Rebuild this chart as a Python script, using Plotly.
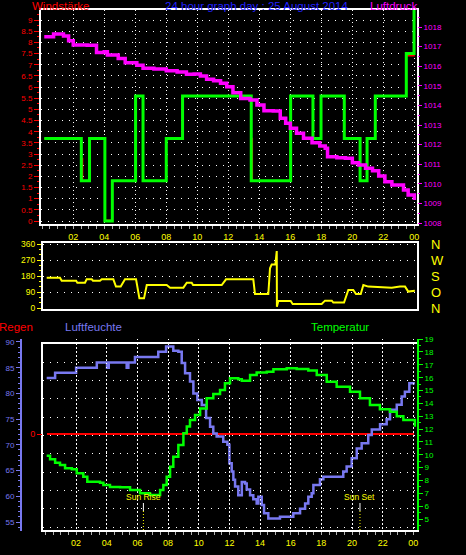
import plotly.graph_objects as go

# ---------------- data ----------------
hour_ticks = [2, 4, 6, 8, 10, 12, 14, 16, 18, 20, 22, 24]
hour_labels = ["02", "04", "06", "08", "10", "12", "14", "16", "18", "20", "22", "00"]

# Windstärke (green, step line)
wind_hours = [0.13, 2.52, 3.05, 4.04, 4.52, 6.02, 6.5, 8.0, 9.05, 13.48, 16.02, 17.46,
              17.98, 19.48, 20.5, 20.95, 21.48, 23.48, 23.98]
wind_speed = [3.7, 1.8, 3.7, 0.0, 1.8, 5.6, 1.8, 3.7, 5.6, 1.8, 5.6, 3.7,
              5.6, 3.7, 1.8, 3.7, 5.6, 7.5, 9.5]
# second wind series (red, mostly hidden under the green one)
gust_hours = [0.13, 2.52, 2.6, 3.05, 4.04, 4.52, 6.02, 6.5, 8.0, 9.05, 13.48, 13.55,
              16.02, 17.46, 17.98, 19.48, 20.5, 20.95, 21.48, 23.48, 23.98]
gust_speed = [3.7, 2.8, 1.8, 3.7, 0.03, 1.8, 5.6, 1.8, 3.7, 5.6, 3.7, 1.8,
              5.6, 3.7, 5.6, 3.7, 1.8, 3.7, 5.6, 7.4, 9.5]

# Luftdruck (magenta)
press_hours = [0.13, 0.73, 1.37, 1.7, 2.0, 2.9, 3.5, 4.0, 4.2, 4.9, 5.35, 6.1, 6.5, 7.2,
               8.0, 8.7, 9.3, 9.8, 10.2, 10.6, 11.05, 11.5, 11.9, 12.3, 12.8, 13.4,
               13.85, 14.3, 14.9, 15.35, 15.7, 16.0, 16.4, 16.85, 17.4, 17.9, 18.25,
               18.4, 19.0, 19.55, 20.0, 20.4, 20.85, 21.3, 21.7, 22.1, 22.55, 23.0,
               23.3, 23.6, 24.0]
pressure = [1017.5, 1017.64, 1017.54, 1017.3, 1017.08, 1017.07, 1016.7, 1016.74,
            1016.57, 1016.4, 1016.18, 1016.05, 1015.9, 1015.86, 1015.77, 1015.7,
            1015.59, 1015.6, 1015.5, 1015.33, 1015.26, 1015.13, 1014.95, 1014.65,
            1014.36, 1014.28, 1014.02, 1013.73, 1013.71, 1013.34, 1013.09, 1012.83,
            1012.58, 1012.32, 1012.1, 1011.93, 1011.81, 1011.38, 1011.33, 1011.3,
            1011.08, 1010.96, 1010.79, 1010.67, 1010.4, 1010.11, 1009.94, 1009.94,
            1009.68, 1009.43, 1009.17]

# Windrichtung (yellow)
dir_hours = [0.08, 0.95, 1.06, 2.0, 2.08, 2.58, 2.69, 3.02, 3.1, 3.56, 3.67, 4.43, 4.6,
             4.91, 5.19, 5.91, 6.13, 6.43, 6.61, 7.91, 8.13, 9.0, 9.22, 9.54, 9.63,
             11.5, 11.78, 13.56, 13.67, 14.54, 14.65, 14.76, 15.0, 15.09, 15.1, 15.19,
             16.0, 16.13, 18.02, 18.24, 18.68, 18.78, 19.48, 19.76, 20.08, 20.26,
             20.57, 20.74, 21.06, 22.59, 23.13, 23.46, 23.67, 24.1]
direction = [172, 172, 155, 155, 144, 144, 163, 163, 155, 155, 163, 163, 122,
             122, 163, 163, 56, 56, 131, 131, 116, 116, 144, 144, 131,
             131, 163, 163, 80, 80, 225, 247, 247, 322, 9, 41,
             41, 24, 24, 43, 43, 32, 32, 103, 103, 80,
             80, 131, 122, 116, 122, 122, 94, 99]
dir_ticks = [0, 90, 180, 270, 360]
dir_letters = ["N", "O", "S", "W", "N"]

# Luftfeuchte (blue, step line)
hum_hours = [0.08, 0.63, 2.0, 3.35, 4.02, 4.13, 5.3, 5.41, 5.84, 7.36, 7.87, 8.34, 8.67,
             8.89, 9.11, 9.43, 9.65, 9.91, 10.2, 10.48, 10.74, 10.95, 11.17, 11.6, 11.87,
             12.0, 12.15, 12.26, 12.37, 12.58, 12.81, 13.02, 13.13, 13.35, 13.56, 13.78,
             13.89, 14.11, 14.26, 14.54, 15.19, 15.3, 15.74, 16.17, 16.61, 16.94, 17.15,
             17.37, 17.48, 17.91, 18.13, 19.33, 19.43, 19.65, 19.98, 20.31, 20.63, 21.06,
             21.29, 21.83, 22.26, 22.48, 22.92, 23.24, 23.45, 23.74, 24.1]
humidity = [83.0, 84.0, 85.0, 86.0, 85.0, 86.0, 85.0, 86.0, 87.1, 88.1, 89.1, 88.3, 88.1,
            85.9, 83.9, 82.3, 80.0, 78.7, 77.75, 75.2, 73.5, 72.2, 71.6, 70.6, 70.0,
            66.4, 64.8, 63.2, 61.9, 60.2, 62.8, 62.5, 61.3, 60.2, 59.4, 58.6,
            59.9, 58.3, 56.7, 55.7, 55.7, 56.0, 56.0, 56.7, 57.6, 58.6, 59.9,
            60.6, 62.2, 63.3, 63.8, 63.8, 64.8, 65.8, 67.4, 69.3, 70.3, 71.9,
            73.0, 74.0, 75.0, 76.8, 77.8, 79.4, 80.3, 82.0, 82.0]

# Temperatur (green)
temp_hours = [0.08, 0.3, 0.63, 0.95, 1.28, 1.72, 2.04, 2.47, 2.73, 3.56, 3.78, 4.21, 4.87,
              5.52, 6.17, 6.82, 7.36, 7.48, 7.69, 7.91, 8.13, 8.34, 8.67, 9.0, 9.22, 9.43,
              9.76, 10.09, 10.52, 10.95, 11.39, 11.71, 12.04, 12.58, 12.81, 13.35, 13.78,
              14.44, 14.87, 15.74, 16.39, 17.15, 17.7, 18.35, 19.0, 19.87, 20.52, 21.17,
              21.82, 22.48, 22.92, 23.35, 24.1]
temperature = [9.93, 9.65, 9.39, 9.2, 8.95, 8.87, 8.56, 8.3, 7.9, 7.83, 7.65, 7.5, 7.47,
               7.26, 7.0, 6.87, 6.87, 7.26, 7.65, 8.3, 9.07, 9.85, 10.76, 11.67, 12.2, 12.7,
               13.1, 13.6, 14.4, 14.73, 15.04, 15.56, 15.95, 15.88, 15.77, 16.2, 16.4,
               16.47, 16.65, 16.73, 16.68, 16.55, 16.2, 15.69, 15.3, 14.9, 14.4, 13.88,
               13.54, 13.35, 13.0, 12.7, 12.19]

# Regen (red)
rain_hours = [0.1, 24.04]
rain = [0, 0]

sun_names = ["Sun Rise", "Sun Set"]
sun_hours = [6.39, 20.52]

# ---------------- styling ----------------
W, H = 466, 555
FONT = "Liberation Sans"
RED, MAG, YEL, GRN = "#FF0000", "#FF00FF", "#FFFF00", "#00FF00"
HUM = "#7878F0"
TITLEBLUE = "#2020FF"
TICKGRAY = "#B0B0B0"


def fx(p):
    return p / W


def fy(p):
    return 1 - p / H


TOP_DOM = [fy(224), fy(10)]
MID_DOM = [fy(309), fy(243)]
BOT_DOM = [fy(530), fy(344)]
HUM_DOM = [fy(531), fy(339)]
TMP_DOM = [fy(530), fy(339)]

fig = go.Figure()

fig.add_trace(go.Scatter(x=gust_hours, y=gust_speed, xaxis="x", yaxis="y", mode="lines",
                         line=dict(color=RED, width=1.5, shape="hv")))
fig.add_trace(go.Scatter(x=wind_hours, y=wind_speed, xaxis="x", yaxis="y", mode="lines",
                         line=dict(color=GRN, width=3, shape="hv")))
fig.add_trace(go.Scatter(x=press_hours, y=pressure, xaxis="x", yaxis="y2", mode="lines",
                         line=dict(color=MAG, width=3.5, shape="hv")))
# invisible helper trace so the compass-letter axis is drawn
fig.add_trace(go.Scatter(x=dir_hours, y=direction, xaxis="x2", yaxis="y4", mode="lines",
                         line=dict(color="rgba(0,0,0,0)", width=0), hoverinfo="skip"))
fig.add_trace(go.Scatter(x=dir_hours, y=direction, xaxis="x2", yaxis="y3", mode="lines",
                         line=dict(color=YEL, width=2)))
# invisible helper trace for the bottom grid axis
fig.add_trace(go.Scatter(x=rain_hours, y=rain, xaxis="x3", yaxis="y5", mode="lines",
                         line=dict(color="rgba(0,0,0,0)", width=0), hoverinfo="skip"))
fig.add_trace(go.Scatter(x=rain_hours, y=rain, xaxis="x3", yaxis="y7", mode="lines",
                         line=dict(color=RED, width=2)))
fig.add_trace(go.Scatter(x=hum_hours, y=humidity, xaxis="x3", yaxis="y6", mode="lines",
                         line=dict(color=HUM, width=2.5, shape="hv")))
fig.add_trace(go.Scatter(x=temp_hours, y=temperature, xaxis="x3", yaxis="y8", mode="lines",
                         line=dict(color=GRN, width=2.5, shape="hv")))

xcommon = dict(tickvals=hour_ticks, ticktext=hour_labels, showline=True, linecolor="white",
               linewidth=2, mirror=True, ticks="outside", ticklen=3, tickcolor=TICKGRAY,
               tickfont=dict(family=FONT, size=9, color=YEL), zeroline=False,
               gridcolor="white", griddash="1px,3px", gridwidth=1, automargin=False,
               minor=dict(tickmode="linear", tick0=0, dtick=0.5, ticks="outside",
                          ticklen=3, tickcolor=TICKGRAY, showgrid=False))

layout = dict(
    width=W, height=H, margin=dict(l=0, r=0, t=0, b=0, pad=0),
    paper_bgcolor="black", plot_bgcolor="rgba(0,0,0,0)", showlegend=False,
    # top panel
    xaxis=dict(domain=[fx(41), fx(417)], anchor="y", range=[-0.08, 24.17], showgrid=True,
               **xcommon),
    yaxis=dict(domain=TOP_DOM, anchor="x", range=[-0.134, 9.45], automargin=False,
               tickmode="linear", tick0=0, dtick=0.5, showline=True, linecolor="white",
               linewidth=2, mirror=True, ticks="outside", ticklen=5, tickcolor=RED,
               tickfont=dict(family=FONT, size=8, color=RED), zeroline=False,
               showgrid=True, gridcolor="white", griddash="1px,6px",
               minor=dict(tickmode="linear", tick0=0, dtick=0.25, ticks="outside",
                          ticklen=2, tickcolor=RED, showgrid=False)),
    yaxis2=dict(domain=TOP_DOM, overlaying="y", anchor="x", side="right",
                range=[1007.95, 1018.87], automargin=False,
                tickmode="linear", tick0=1008, dtick=1, ticks="outside", ticklen=4,
                tickcolor=MAG, showline=False, showgrid=False, zeroline=False,
                tickfont=dict(family=FONT, size=8, color=MAG),
                minor=dict(tickmode="linear", tick0=1008, dtick=0.5, ticks="outside",
                           ticklen=2, tickcolor=MAG, showgrid=False)),
    # middle panel
    xaxis2=dict(domain=[fx(43), fx(417)], anchor="y3", range=[-0.16, 24.24], showgrid=False,
                showticklabels=False, showline=True, linecolor="white", linewidth=2,
                mirror=True, ticks="", zeroline=False, automargin=False),
    yaxis3=dict(domain=MID_DOM, anchor="x2", range=[-3.9, 367.3], automargin=False,
                tickvals=dir_ticks, showline=True, linecolor="white", linewidth=2,
                mirror=True, ticks="outside", ticklen=4, tickcolor=YEL,
                tickfont=dict(family=FONT, size=8.5, color=YEL), zeroline=False,
                showgrid=True, gridcolor="white", griddash="1px,6px",
                minor=dict(tickmode="linear", tick0=0, dtick=30, ticks="outside",
                           ticklen=2, tickcolor=YEL, showgrid=False)),
    yaxis4=dict(domain=MID_DOM, overlaying="y3", anchor="x2", side="right",
                range=[-3.9, 367.3], automargin=False,
                tickvals=dir_ticks, ticktext=dir_letters, ticks="", showline=False,
                showgrid=False, zeroline=False, ticklabelstandoff=13,
                tickfont=dict(family=FONT, size=13, color=YEL)),
    # bottom panel
    xaxis3=dict(domain=[fx(43), fx(417)], anchor="y5", range=[-0.16, 24.24], showgrid=True,
                **xcommon),
    yaxis5=dict(domain=BOT_DOM, anchor="x3", range=[-0.15, 10], automargin=False,
                tickmode="linear", tick0=0, dtick=1, showticklabels=False, ticks="",
                showline=True, linecolor="white", linewidth=2, mirror=True,
                zeroline=False, showgrid=True, gridcolor="white", griddash="1px,6px"),
    yaxis6=dict(domain=HUM_DOM, anchor="free", position=fx(21),
                side="left", automargin=False,
                range=[53.25, 90.58], tickmode="linear", tick0=55, dtick=5,
                showline=True, linecolor=HUM, linewidth=2, ticks="outside", ticklen=4,
                tickcolor=HUM, tickfont=dict(family=FONT, size=8, color=HUM),
                showgrid=False, zeroline=False,
                minor=dict(tickmode="linear", tick0=55, dtick=1, ticks="outside",
                           ticklen=2, tickcolor=HUM, showgrid=False)),
    yaxis7=dict(domain=BOT_DOM, overlaying="y5", anchor="x3", side="left",
                range=[-1.032, 0.968], automargin=False,
                tickvals=[0], ticks="outside", ticklen=5, tickcolor=RED, showline=False,
                showgrid=False, zeroline=False,
                tickfont=dict(family=FONT, size=9, color=RED)),
    yaxis8=dict(domain=TMP_DOM, anchor="x3", side="right",
                range=[4.15, 19.01], automargin=False,
                tickmode="linear", tick0=5, dtick=1, showline=True, linecolor=GRN,
                linewidth=2, ticks="outside", ticklen=4, tickcolor=GRN,
                tickfont=dict(family=FONT, size=8, color=GRN), showgrid=False,
                zeroline=False,
                minor=dict(tickmode="linear", tick0=5, dtick=0.5, ticks="outside",
                           ticklen=2, tickcolor=GRN, showgrid=False)),
)
fig.update_layout(**layout)

titles = [
    ("Windstärke", 61, 6, RED),
    ("24 hour graph day : 25 August 2014", 256.5, 6, TITLEBLUE),
    ("Luftdruck", 393.5, 6, MAG),
    ("Regen", 16, 327, RED),
    ("Luftfeuchte", 93.5, 327, HUM),
    ("Temperatur", 339.5, 327, GRN),
]
for text, cx, cy, col in titles:
    fig.add_annotation(text=text, xref="paper", yref="paper", x=fx(cx), y=fy(cy),
                       xanchor="center", yanchor="middle", showarrow=False,
                       font=dict(family=FONT, size=11.5, color=col))

for name, hr in zip(sun_names, sun_hours):
    fig.add_shape(type="line", xref="x3", yref="paper", x0=hr, x1=hr, y0=fy(511), y1=fy(503),
                  line=dict(color="white", width=1))
    fig.add_shape(type="line", xref="x3", yref="paper", x0=hr, x1=hr, y0=fy(530), y1=fy(511),
                  line=dict(color=YEL, width=1, dash="1px,2px"))
    fig.add_annotation(text=name, xref="x3", yref="paper", x=hr, y=fy(497.5),
                       xanchor="center", yanchor="middle", showarrow=False,
                       font=dict(family=FONT, size=8.5, color=YEL))

fig.write_html("out.html", config={"displayModeBar": False},
               post_script="document.body.style.margin='0';"
                           "document.body.style.background='black';")
